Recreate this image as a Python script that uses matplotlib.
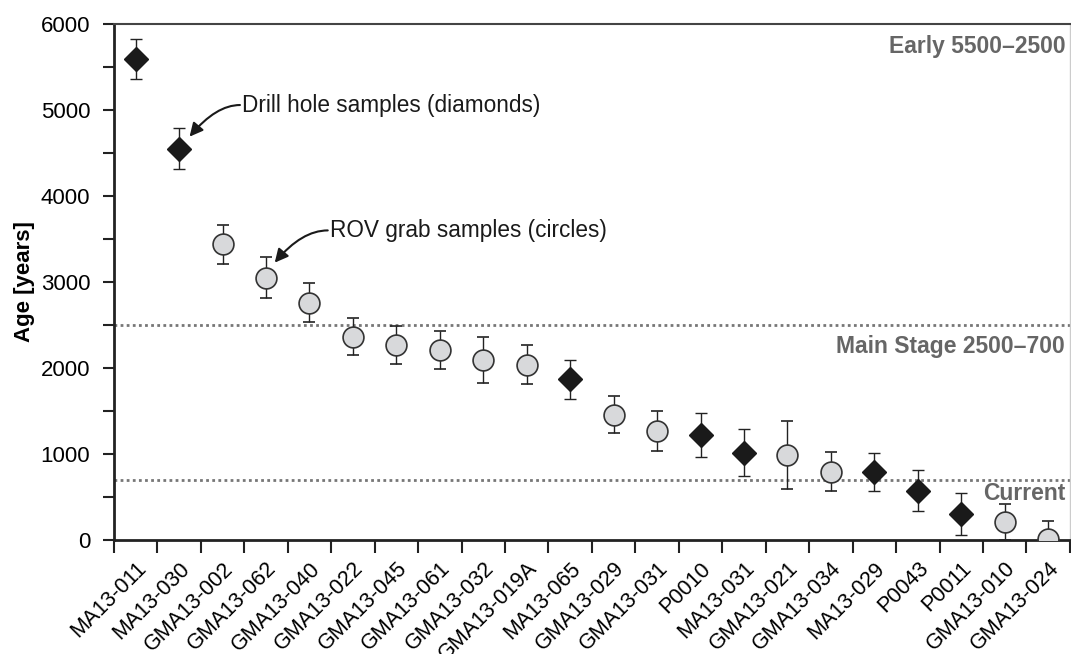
"""
Radiocarbon ages of drill hole and ROV grab samples
"""
import numpy as np
import matplotlib
matplotlib.use('Agg')
import matplotlib.pyplot as plt
import matplotlib.transforms as mtransforms
from matplotlib.ticker import MultipleLocator, FixedLocator

plt.rcParams['font.family'] = ['Liberation Sans', 'DejaVu Sans']

# Sample names in plotting order
samples = ['MA13-011', 'MA13-030', 'GMA13-002', 'GMA13-062', 'GMA13-040',
           'GMA13-022', 'GMA13-045', 'GMA13-061', 'GMA13-032', 'GMA13-019A',
           'MA13-065', 'GMA13-029', 'GMA13-031', 'P0010', 'MA13-031',
           'GMA13-021', 'GMA13-034', 'MA13-029', 'P0043', 'P0011',
           'GMA13-010', 'GMA13-024']

# Ages and 1-sigma errors (years)
ages = [5590, 4550, 3440, 3050, 2760, 2365, 2270, 2210, 2095, 2040,
        1870, 1455, 1265, 1225, 1015, 985, 795, 790, 572, 300, 213, 10]
errs = [235, 240, 225, 235, 225, 215, 220, 225, 265, 230,
        225, 215, 230, 255, 275, 395, 228, 220, 237, 245, 210, 210]

# 'D' = drill hole, 'R' = ROV grab
kind = ['D', 'D', 'R', 'R', 'R', 'R', 'R', 'R', 'R', 'R',
        'D', 'R', 'R', 'D', 'D', 'R', 'R', 'D', 'D', 'D', 'R', 'R']

# Stage boundaries
stage_lines = [2500, 700]

x = np.arange(len(samples))
ages = np.array(ages)
errs = np.array(errs)
drill = np.array([k == 'D' for k in kind])

fig = plt.figure(figsize=(10.71, 6.54), dpi=100)
ax = fig.add_axes([0.1064, 0.1743, 0.8926, 0.789])

for y in stage_lines:
    ax.axhline(y, color='#777777', lw=2, ls=(0, (1, 1.2)), zorder=1)

ax.errorbar(x[drill], ages[drill], yerr=errs[drill], fmt='D', ms=12,
            mfc='#1a1a1a', mec='#1a1a1a', ecolor='#222222', elinewidth=1,
            capsize=4.5, capthick=1, zorder=3)
ax.errorbar(x[~drill], ages[~drill], yerr=errs[~drill], fmt='o', ms=15,
            mfc='#d8d9db', mec='#333333', mew=1.2, ecolor='#222222',
            elinewidth=1, capsize=4.5, capthick=1, zorder=3)

ax.set_xlim(-0.5, len(samples) - 0.5)
ax.set_ylim(0, 6000)

ax.yaxis.set_major_locator(MultipleLocator(1000))
ax.yaxis.set_minor_locator(MultipleLocator(500))
ax.tick_params(axis='y', which='both', direction='out', length=8, width=1.5,
               labelsize=16, color='#222222', pad=9)
ax.set_ylabel('Age [years]', fontsize=16, fontweight='bold', labelpad=4)

ax.set_xticks(x)
ax.set_xticklabels(samples, rotation=45, ha='right', rotation_mode='anchor',
                   fontsize=15.5)
ax.xaxis.set_minor_locator(FixedLocator(np.arange(-0.5, len(samples), 1.0)))
ax.tick_params(axis='x', which='major', length=0, pad=13)
ax.tick_params(axis='x', which='minor', direction='out', length=9, width=1.5,
               color='#222222')

ax.spines['left'].set_linewidth(2)
ax.spines['left'].set_color('#222222')
ax.spines['bottom'].set_linewidth(2)
ax.spines['bottom'].set_color('#222222')
ax.spines['top'].set_linewidth(1.5)
ax.spines['top'].set_color('#444444')
ax.spines['right'].set_linewidth(1)
ax.spines['right'].set_color('#cccccc')

# Stage labels on the right
trans = mtransforms.blended_transform_factory(ax.transAxes, ax.transData)
lab_kw = dict(transform=trans, ha='right', va='center', fontsize=16.5,
              fontweight='bold', color='#666666')
ax.text(0.995, 5740, 'Early 5500\u20132500', **lab_kw)
ax.text(0.995, 2250, 'Main Stage 2500\u2013700', **lab_kw)
ax.text(0.995, 535, 'Current', **lab_kw)

# Annotations: text plus a separate curved arrow
arrow_kw = dict(arrowstyle='-|>', color='#1a1a1a', lw=1.5,
                mutation_scale=20, shrinkA=0, shrinkB=0,
                connectionstyle='angle3,angleA=0,angleB=50')
ax.text(2.45, 5058, 'Drill hole samples (diamonds)', fontsize=16.3,
        ha='left', va='center', color='#1a1a1a')
ax.annotate('', xy=(1.24, 4690), xytext=(2.40, 5058), arrowprops=arrow_kw)
ax.text(4.47, 3600, 'ROV grab samples (circles)', fontsize=16.3,
        ha='left', va='center', color='#1a1a1a')
ax.annotate('', xy=(3.2, 3225), xytext=(4.42, 3600), arrowprops=arrow_kw)

fig.savefig('out.png', dpi=100)
